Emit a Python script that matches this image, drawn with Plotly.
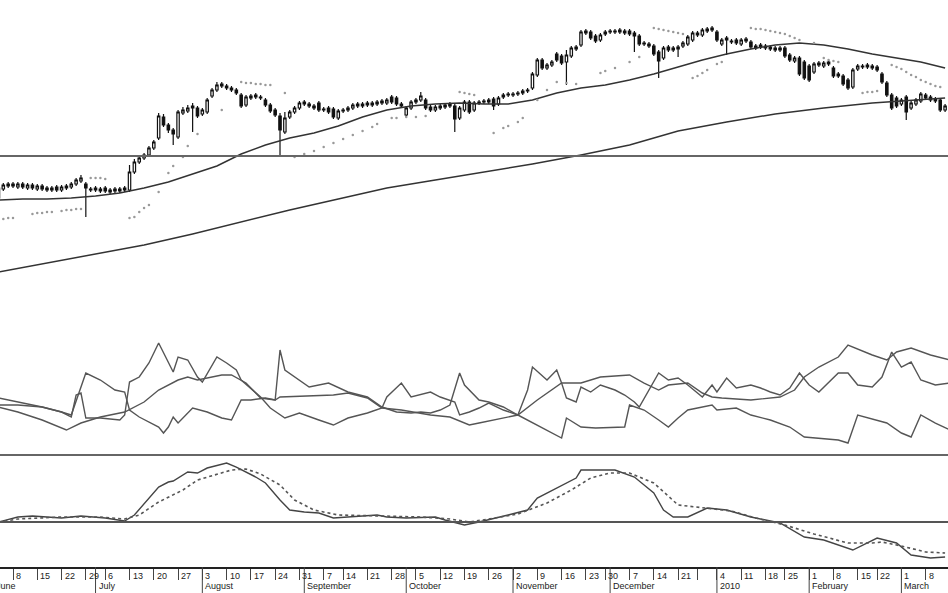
import plotly.graph_objects as go

# ---------------- data ----------------
# trading-day index (0 = Mon 1 Jun 2009, US holidays removed)
days = list(range(2, 198))

opens = [102,111,114,116,113,116,112,115,
         111,114,112,110,113,110,112,113,116,119,
         116,110,112,109,112,108,111,109,112,110,
         128,138,142,145,152,162,183,175,170,163,
         187,189,192,192,186,188,204,210,216,214,
         212,210,205,195,202,205,203,200,195,190,
         184,168,183,188,192,198,196,194,197,190,
         192,191,182,189,190,192,196,194,197,195,
         196,199,197,203,202,196,185,192,198,200,
         200,193,190,192,193,194,194,182,190,198,
         190,197,198,200,201,196,203,205,205,206,
         207,209,212,225,240,232,235,246,244,238,
         244,251,255,269,268,264,260,266,268,268,
         270,267,269,267,264,257,256,254,248,242,
         253,250,251,254,256,260,267,265,269,270,
         268,256,262,258,260,256,261,258,252,255,
         254,253,250,252,252,245,239,242,238,234,
         228,237,234,238,232,226,224,220,213,231,
         233,235,234,233,226,217,205,202,196,203,
         192,196,199,205,203,201,200,190]

highs = [117,117,118,118,118,118,117,117,
         116,116,114,114,115,115,116,118,122,125,
         118,113,114,113,114,112,113,113,114,135,
         141,144,147,154,160,187,186,177,172,190,
         193,195,197,194,192,202,212,218,218,216,
         214,212,207,205,206,207,205,202,197,192,
         187,188,190,194,199,200,198,196,199,193,
         194,193,191,192,194,197,198,198,199,199,
         200,201,202,205,204,198,194,200,202,208,
         202,195,195,196,197,198,196,194,200,200,
         199,200,201,202,203,204,207,208,208,209,
         211,212,228,242,242,237,240,248,246,250,
         254,255,270,271,270,266,267,270,271,271,
         272,271,271,269,266,259,258,256,250,254,
         255,254,255,259,265,269,269,272,273,274,
         270,262,264,261,262,262,263,260,256,257,
         256,255,254,254,254,247,244,244,240,236,
         238,239,239,240,234,228,226,222,232,236,
         236,237,236,235,228,219,207,204,202,205,
         199,202,208,207,205,203,202,196]

lows = [100,109,112,112,111,111,110,110,
        109,109,108,108,108,108,110,111,114,117,
        83,108,108,107,107,106,107,107,108,108,
        126,136,140,143,150,160,173,167,155,161,
        185,187,168,182,184,186,202,208,212,210,
        208,205,192,193,200,201,200,193,187,183,
        143,166,181,186,190,194,192,190,188,188,
        186,181,180,187,188,190,192,192,193,193,
        194,195,195,196,194,192,183,190,196,198,
        190,188,188,190,191,192,168,180,188,186,
        188,195,196,196,190,194,201,203,203,204,
        205,207,210,223,230,230,233,238,235,215,
        242,249,253,265,260,257,258,264,266,266,
        266,265,264,248,254,254,252,244,222,240,
        248,248,243,252,254,258,263,263,267,268,
        258,254,245,256,255,254,257,251,250,251,
        250,249,248,248,242,238,237,224,220,218,
        226,233,232,234,222,222,214,210,211,229,
        231,231,230,228,216,203,190,192,194,180,
        190,194,197,200,198,197,188,188]

closes = [112,115,116,114,116,113,115,112,
          114,111,110,112,110,113,114,116,120,122,
          112,111,110,111,109,110,109,111,110,128,
          138,142,145,152,158,184,175,170,166,188,
          190,192,194,184,190,200,210,215,214,212,
          210,207,194,203,204,203,202,195,189,185,
          170,182,188,192,197,196,194,192,190,191,
          188,183,189,190,192,195,194,196,195,197,
          198,197,200,198,196,194,192,198,200,204,
          192,190,193,194,195,196,181,192,198,188,
          197,198,199,198,194,202,205,206,206,207,
          209,210,226,240,232,235,238,240,237,245,
          252,253,268,267,262,259,265,268,269,269,
          268,269,266,264,256,256,254,246,239,252,
          250,252,253,257,263,267,265,270,271,272,
          260,260,260,259,257,260,259,253,254,253,
          252,251,252,250,244,240,242,226,222,220,
          236,235,237,236,224,224,216,212,230,234,
          234,233,232,230,218,205,192,194,200,188,
          197,200,206,202,200,199,190,194]

ma50_x = [2,7,12,17,22,27,32,37,42,47,52,57,62,67,72,77,82,87,92,97,
          102,107,112,117,122,127,132,137,142,147,152,157,162,167,172,177,182,187,192,197]
ma50 = [100,101,101,102,104,107,112,118,126,134,146,155,162,167,174,183,190,194,196,197,
        196,196,200,207,212,215,220,226,233,240,246,251,255,257,255,251,246,242,238,232]

ma200_x = [2,12,22,32,42,52,62,72,82,92,102,112,122,132,142,152,162,172,182,192,197]
ma200 = [28,37,46,55,66,78,90,101,112,120,128,136,145,155,169,178,186,192,197,200,202]

sar_x = [3,4,5,9,10,11,12,13,15,16,17,18,19,
         21,22,23,24,
         29,30,31,32,33,35,37,38,40,41,43,48,
         52,53,54,55,56,57,58,61,
         63,65,67,69,71,73,75,77,79,80,
         83,84,86,88,90,
         97,98,99,100,
         104,106,107,109,110,113,115,117,119,121,126,127,129,132,134,
         137,138,139,140,141,142,143,
         145,146,147,148,150,151,
         157,158,159,160,161,162,163,164,165,166,167,170,172,173,174,175,
         180,181,182,183,
         186,187,188,189,190,191,192,193,194,195,196]
sar = [81,82,82,86,87,87,88,88,89,90,90,91,91,
       122,122,122,121,
       82,83,88,92,95,108,127,134,143,154,166,190,
       218,217,217,216,216,215,215,207,
       143,146,149,153,157,161,165,169,173,176,
       182,182,183,183,184,
       208,207,206,205,
       167,172,174,178,182,200,210,218,217,216,227,229,232,238,243,
       272,271,270,269,268,267,266,
       222,224,227,230,236,238,
       272,271,271,270,269,268,267,266,264,262,260,257,242,240,239,238,
       207,208,208,209,
       235,233,231,228,225,223,220,218,216,214,213]

dim_x = [2,6,11,15,17,20,23,26,28,29,31,35,36,37,38,39,42,45,48,50,52,54,57,59,60,
         61,64,66,70,74,78,81,84,87,89,91,93,95,97,98,101,103,106,109,111,112,115,117,
         118,119,121,122,124,126,129,131,133,134,138,140,142,144,147,149,150,152,154,
         157,159,161,163,165,167,169,171,175,177,179,182,184,186,188,190,192,195,198]
dim = [28.5,26.5,24,21.5,20,41,37.5,32.5,31.5,22.5,19,14,11,14,19,16,23.5,21.5,18.5,17.5,
       27.5,27.5,28.5,27.5,52.5,42.5,37.5,34,36,31.5,29,24,21.5,21,21.5,21,22.5,25,41,35,
       27.5,26.5,24,20,32.5,44,37.5,42.5,36,28.5,26.5,34,31.5,35,32.5,30,26.5,24,41,37.5,
       38.5,35,29,35,31.5,38.5,33.5,35,33.5,31.5,30,33.5,41,35,31.5,41,41,35,34,39,
       51.5,44,46.5,37.5,35,36]

dip_x = [2,6,11,15,17,18,19,20,23,27,28,29,31,33,35,36,38,39,41,43,44,47,49,51,52,
         56,58,61,64,68,71,74,78,81,82,85,87,91,93,96,97,99,101,103,106,109,113,116,
         118,119,122,125,131,132,135,138,140,142,144,149,150,154,157,161,165,168,171,
         175,177,179,185,188,190,192,195,198]
dip = [25,25,24,21.5,19,30,31,18.5,18.5,17.5,20,36.5,39,46,56,51,41.5,49,47.5,39,
       36.5,49,46,42.5,37.5,29,23.5,18.5,21,17.5,15,18.5,21,23.5,29,36,29,31.5,29,26.5,
       20,21.5,23.5,26,22.5,20,15,11,8.5,18.5,14,13.5,14,25,22.5,17.5,14,18.5,22.5,25,
       22.5,23.5,20,17.5,14,9,8.5,7.5,6,20,16,11,9,20,16,12.5]

adx_x = [2,6,11,16,19,23,28,32,35,39,41,43,48,50,53,56,59,60,71,74,78,81,85,91,95,
         99,101,109,113,118,122,126,132,135,138,140,144,147,149,151,157,163,166,168,171,
         175,177,182,185,187,190,194,198]
adx = [24,21.5,17.5,12.5,16,19,21.5,26.5,32.5,37.5,39,37.5,40,40,36,28.5,27.5,29,30,31,
       28.5,23.5,22.5,20,19,15,16,20,27.5,36,36,39,40,36,32.5,35,36,31,29,28.5,
       27.5,29,32.5,39,44,49,55,50,47.5,51.5,53.5,50,47.5]

macd_x = [2,6,9,15,19,24,28,30,35,37,38,41,43,45,49,51,55,57,60,62,65,68,71,75,80,
          82,86,92,94,98,101,107,111,113,117,121,122,129,133,137,139,141,144,148,152,
          157,163,168,172,178,183,187,190,194,197]
macd = [0,.5,.6,.4,.6,.4,.1,.7,3.5,4.0,4.1,5.0,4.9,5.4,5.9,5.5,4.5,3.9,2.2,1.2,
        1.0,0.9,0.4,0.5,0.7,0.5,0.4,0.5,0.2,-0.3,0,0.7,1.2,2.4,3.4,4.4,5.2,5.2,4.5,2.9,
        1.2,0.5,0.5,1.4,1.2,0.5,-0.1,-1.5,-1.8,-2.8,-1.6,-2.1,-3.3,-3.6,-3.5]

signal_x = [2,6,15,23,28,31,35,40,43,50,53,56,60,63,67,72,81,89,95,99,
            103,109,115,120,124,128,132,137,142,147,153,158,164,170,177,182,184,188,193,197]
signal = [0,0.3,0.5,0.5,0.3,0.7,2.0,3.2,4.2,5.2,5.3,4.8,3.7,2.2,1.2,0.7,0.6,0.5,0.3,0,
          0.3,0.8,1.9,3.2,4.4,4.9,4.9,3.9,1.7,1.4,1.1,0.4,-0.3,-1.2,-2.1,-2.1,-2.0,-2.4,-3.0,-3.1]

week_idx = [0,5,10,15,20,24,29,34,39,44,49,54,59,64,69,73,78,83,88,93,98,103,
            108,113,118,123,127,132,137,142,146,150,155,160,164,169,174,179,183,188,193]
week_lbl = ["1","8","15","22","29","6","13","20","27","3","10","17","24","31","7","14",
            "21","28","5","12","19","26","2","9","16","23","30","7","14","21","","4",
            "11","18","25","1","8","15","22","1","8"]

month_idx = [0,22,44,65,86,108,128,150,169,188]
month_lbl = ["June","July","August","September","October","November",
             "December","2010","February","March"]

# ---------------- figure ----------------
X0, X1 = 2.32, 197.6
PLOT_H = 593 - 26
LBL_FONT = dict(family="Liberation Sans, Arial", size=9, color="#222")

fig = go.Figure()

fig.add_trace(go.Candlestick(
    x=days, open=opens, high=highs, low=lows, close=closes,
    increasing=dict(line=dict(color="#111", width=1.2), fillcolor="white"),
    decreasing=dict(line=dict(color="#111", width=1.2), fillcolor="#111"),
    whiskerwidth=0, xaxis="x", yaxis="y", showlegend=False, hoverinfo="skip"))

fig.add_trace(go.Scatter(x=ma50_x, y=ma50, mode="lines", yaxis="y",
                         line=dict(color="#333", width=1.5), hoverinfo="skip"))
fig.add_trace(go.Scatter(x=ma200_x, y=ma200, mode="lines", yaxis="y",
                         line=dict(color="#333", width=1.5), hoverinfo="skip"))
fig.add_trace(go.Scatter(x=sar_x, y=sar, mode="markers", yaxis="y",
                         marker=dict(color="#999", size=2.5), hoverinfo="skip"))

for xs, ys in ((dim_x, dim), (dip_x, dip), (adx_x, adx)):
    fig.add_trace(go.Scatter(x=xs, y=ys, mode="lines", yaxis="y2",
                             line=dict(color="#555", width=1.4), hoverinfo="skip"))

fig.add_trace(go.Scatter(x=macd_x, y=macd, mode="lines", yaxis="y3",
                         line=dict(color="#444", width=1.4), hoverinfo="skip"))
fig.add_trace(go.Scatter(x=signal_x, y=signal, mode="lines", yaxis="y3",
                         line=dict(color="#555", width=1.6, dash="dot"), hoverinfo="skip"))

shapes = [
    dict(type="line", xref="paper", yref="y", x0=0, x1=1, y0=144, y1=144,
         line=dict(color="#666", width=2.2)),
    dict(type="line", xref="paper", yref="paper", x0=0, x1=1, y0=0.1975, y1=0.1975,
         line=dict(color="#666", width=2.2)),
    dict(type="line", xref="paper", yref="y3", x0=0, x1=1, y0=0, y1=0,
         line=dict(color="#555", width=2)),
]
for mi in month_idx:
    px = (mi - X0) / (X1 - X0)
    if 0 <= px <= 1:
        shapes.append(dict(type="line", xref="paper", yref="paper", x0=px, x1=px,
                           y0=0, y1=-26 / PLOT_H, line=dict(color="#444", width=1)))

annotations = []
for wi, wl in zip(week_idx, week_lbl):
    if wl and X0 <= wi <= X1:
        annotations.append(dict(x=wi, y=-9 / PLOT_H, xref="x", yref="paper", text=wl,
                                showarrow=False, xanchor="left", yanchor="middle", xshift=1,
                                font=LBL_FONT))
for mi, ml in zip(month_idx, month_lbl):
    xv = max(mi, X0 + 0.01)
    shift = 1 if mi >= X0 else -6
    annotations.append(dict(x=xv, y=-19 / PLOT_H, xref="x", yref="paper", text=ml,
                            showarrow=False, xanchor="left", yanchor="middle", xshift=shift,
                            font=LBL_FONT))

fig.update_layout(
    width=948, height=593,
    margin=dict(l=0, r=0, t=0, b=26, pad=0, autoexpand=False),
    paper_bgcolor="white", plot_bgcolor="white",
    showlegend=False, hovermode=False,
    xaxis=dict(range=[X0, X1], anchor="y3", showgrid=False, zeroline=False,
               showline=True, linecolor="#222", linewidth=1.5,
               ticks="outside", ticklen=11, tickwidth=1, tickcolor="#444",
               tickvals=week_idx, showticklabels=False, automargin=False,
               rangeslider=dict(visible=False)),
    yaxis=dict(domain=[0.4709, 1], range=[0, 300], visible=False, anchor="x"),
    yaxis2=dict(domain=[0.1975, 0.4709], range=[0, 77.5], visible=False, anchor="x"),
    yaxis3=dict(domain=[0, 0.1975], range=[-4.5, 6.7], visible=False, anchor="x"),
    shapes=shapes, annotations=annotations,
)

fig.write_html(
    "out.html",
    config={"displayModeBar": False},
    post_script="document.body.style.margin='0';document.body.style.padding='0';"
                "document.body.style.overflow='hidden';",
)
